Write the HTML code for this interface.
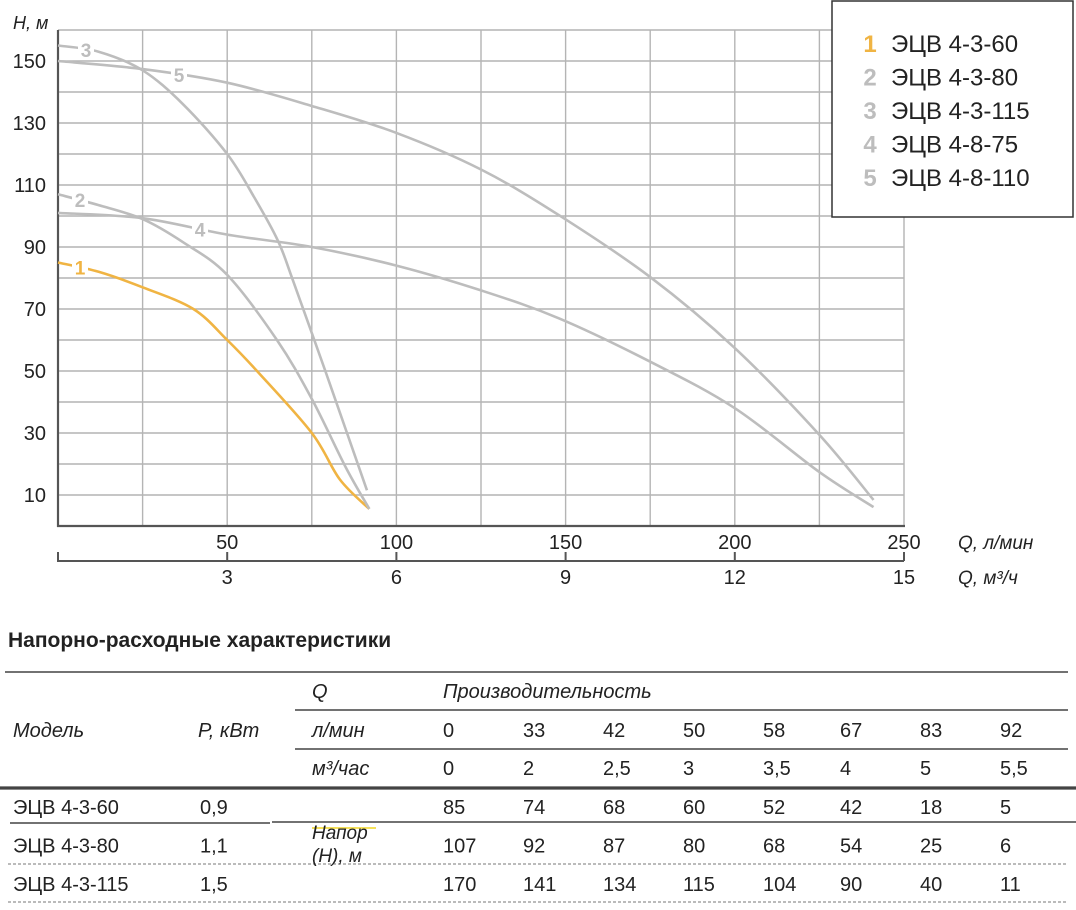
<!DOCTYPE html>
<html><head><meta charset="utf-8"><style>
body{margin:0;background:#fff;width:1076px;height:910px;overflow:hidden}
svg{display:block;font-family:"Liberation Sans","DejaVu Sans",sans-serif}
</style></head><body>
<svg id="c" width="1076" height="910" viewBox="0 0 1076 910">
<g id="grid"></g>
<g id="axes"></g>
<g id="curves"></g>
<g id="legend">
<rect x="832" y="1" width="241" height="216" fill="#fff" stroke="#333" stroke-width="1.5"/>
</g>
<g id="table"></g>
</svg>
<script>
const qTicks=[50,100,150,200,250];
const m3Ticks=[3,6,9,12,15];
const hTicks=[10,30,50,70,90,110,130,150];
const names=["ЭЦВ 4-3-60","ЭЦВ 4-3-80","ЭЦВ 4-3-115","ЭЦВ 4-8-75","ЭЦВ 4-8-110"];
const q1=[0,12,25,40,50,58.8,75,83.3,92];
const h1=[85,82,77,70,60,50,30,15,5.5];
const q2=[0,12,25,37,50,64.7,75,85,92];
const h2=[107,103.5,99,91.5,81,60,41,19,5.5];
const q3=[0,12,25,37,50,58,65,69.5,79,85.4,91.3];
const h3=[155,153,147,136,120,106,92,79,50,30,11.5];
const q4=[0,25,50,75,100,125,148,175,200,225,241];
const h4=[101,99.3,94,90,84,76,67,53,38,17.4,6.1];
const q5=[0,25,50,75,100,125,148,175,200,225,241];
const h5=[150,147.4,143,135.5,126.8,115,100.3,80.3,57.4,29.4,8.4];
const seriesQ=[q1,q2,q3,q4,q5];
const seriesH=[h1,h2,h3,h4,h5];
const tblQ=["0","33","42","50","58","67","83","92"];
const tblM3=["0","2","2,5","3","3,5","4","5","5,5"];
const tblP=["0,9","1,1","1,5"];
const tblR1=["85","74","68","60","52","42","18","5"];
const tblR2=["107","92","87","80","68","54","25","6"];
const tblR3=["170","141","134","115","104","90","40","11"];

const NS="http://www.w3.org/2000/svg";
const X0=58,X1=904,Y0=526;
const x=q=>X0+q*(X1-X0)/250;
const y=h=>Y0-h*3.1;
function mk(tag,at,parent,txt){const e=document.createElementNS(NS,tag);for(const k in at)e.setAttribute(k,at[k]);if(txt!==undefined)e.textContent=txt;parent.appendChild(e);return e;}
const G=document.getElementById('grid'),A=document.getElementById('axes'),C=document.getElementById('curves'),L=document.getElementById('legend'),T=document.getElementById('table');
for(let h=10;h<=160;h+=10){const l=mk('line',{x1:X0,x2:X1,y1:y(h),y2:y(h),stroke:'#b4b4b4','stroke-width':1.4},G);

}
for(let q=25;q<=250;q+=25){const l=mk('line',{x1:x(q),x2:x(q),y1:y(160),y2:Y0,stroke:'#b4b4b4','stroke-width':1.4},G);

}
let e;
e=mk('line',{x1:X0,x2:X0,y1:y(160),y2:Y0+1,stroke:'#555','stroke-width':2.2},A);

e=mk('line',{x1:X0-1,x2:X1+1,y1:Y0,y2:Y0,stroke:'#555','stroke-width':2.2},A);

e=mk('line',{x1:X0,x2:X1,y1:561,y2:561,stroke:'#555','stroke-width':2},A);

e=mk('line',{x1:X0,x2:X0,y1:552,y2:562,stroke:'#555','stroke-width':2},A);

hTicks.forEach(h=>{const t=mk('text',{x:46,y:y(h)+7,'text-anchor':'end','font-size':20,fill:'#222'},A,String(h));
});
qTicks.forEach(q=>{const t=mk('text',{x:x(q),y:549,'text-anchor':'middle','font-size':20,fill:'#222'},A,String(q));
});
m3Ticks.forEach(m=>{const xx=x(m*250/15);const k=mk('line',{x1:xx,x2:xx,y1:552,y2:561,stroke:'#555','stroke-width':2},A);

const t=mk('text',{x:xx,y:584,'text-anchor':'middle','font-size':20,fill:'#222'},A,String(m));
});
e=mk('text',{x:13,y:29,'font-size':18,'font-style':'italic',fill:'#222'},A,'H, м');

e=mk('text',{x:958,y:549,'font-size':19,'font-style':'italic',fill:'#222'},A,'Q, л/мин');

e=mk('text',{x:958,y:584,'font-size':19,'font-style':'italic',fill:'#222'},A,'Q, м³/ч');

function path(qs,hs){const p=qs.map((q,i)=>[x(q),y(hs[i])]);let d='M'+p[0][0]+','+p[0][1];
for(let i=0;i<p.length-1;i++){const a=p[i-1]||p[i],b=p[i],c=p[i+1],n=p[i+2]||c;
d+=' C'+(b[0]+(c[0]-a[0])/6)+','+(b[1]+(c[1]-a[1])/6)+' '+(c[0]-(n[0]-b[0])/6)+','+(c[1]-(n[1]-b[1])/6)+' '+c[0]+','+c[1];}return d;}
const cols=['#f0b443','#bdbdbd','#bdbdbd','#bdbdbd','#bdbdbd'];
seriesQ.forEach((qs,i)=>{const p=mk('path',{d:path(qs,seriesH[i]),fill:'none',stroke:cols[i],'stroke-width':2.6},C);
});
function hAt(qs,hs,q){for(let i=0;i<qs.length-1;i++){if(q>=qs[i]&&q<=qs[i+1]){const t=(q-qs[i])/(qs[i+1]-qs[i]);return hs[i]+t*(hs[i+1]-hs[i]);}}return hs[0];}
const lblX=[80,80,86,200,179];
lblX.forEach((lx,i)=>{const q=(lx-X0)*250/(X1-X0);const yy=y(hAt(seriesQ[i],seriesH[i],q));
const r=mk('rect',{x:lx-8,y:yy-9,width:16,height:18,fill:'#fff'},C);

const t=mk('text',{x:lx,y:yy+7,'text-anchor':'middle','font-size':19,fill:cols[i],'font-weight':'bold'},C,String(i+1));
});
names.forEach((n,i)=>{const yy=52+i*33.5;
const a=mk('text',{x:870,y:yy,'text-anchor':'middle','font-size':24,'font-weight':'bold',fill:i?'#bdbdbd':'#f0b443'},L,String(i+1));

const b=mk('text',{x:891,y:yy,'font-size':24,fill:'#222'},L,n);
});
function txt(xx,yy,s,o){const t=mk('text',Object.assign({x:xx,y:yy,'font-size':20,fill:'#222'},o||{}),T,s);return t;}
e=txt(8,647,'Напорно-расходные характеристики',{'font-weight':'bold','font-size':21});

function ln(x1,x2,yy,w,dash){const l=mk('line',{x1:x1,x2:x2,y1:yy,y2:yy,stroke:dash?'#777':'#444','stroke-width':w},T);if(dash)l.setAttribute('stroke-dasharray','3,2');
}
ln(5,1068,672,1.5);ln(295,1068,710,1.5);ln(295,1068,749,1.5);ln(0,1076,788,3.2);
ln(10,270,823,1.5);ln(272,1076,822,1.5);ln(8,1068,864,1,true);ln(8,1068,902,1,true);
const cx=[443,523,603,683,763,840,920,1000];
e=txt(13,737,'Модель',{'font-style':'italic'});
e=txt(198,737,'P, кВт',{'font-style':'italic'});
e=txt(312,698,'Q',{'font-style':'italic'});
e=txt(443,698,'Производительность',{'font-style':'italic'});
e=txt(312,737,'л/мин',{'font-style':'italic'});
e=txt(312,775,'м³/час',{'font-style':'italic'});
e=mk('line',{x1:312,x2:376,y1:828,y2:828,stroke:'#f5e15a','stroke-width':2},T);
e=txt(312,839,'Напор',{'font-style':'italic','font-size':19});
e=txt(312,862,'(H), м',{'font-style':'italic','font-size':19});
tblQ.forEach((v,i)=>{const t=txt(cx[i],737,v);});
tblM3.forEach((v,i)=>{const t=txt(cx[i],775,v);});
[tblR1,tblR2,tblR3].forEach((row,r)=>{const yy=814+r*38.5;
const m=txt(13,yy,names[r]);
const p=txt(200,yy,tblP[r]);
row.forEach((v,i)=>{const t=txt(cx[i],yy,v);});});
</script>
</body></html>
